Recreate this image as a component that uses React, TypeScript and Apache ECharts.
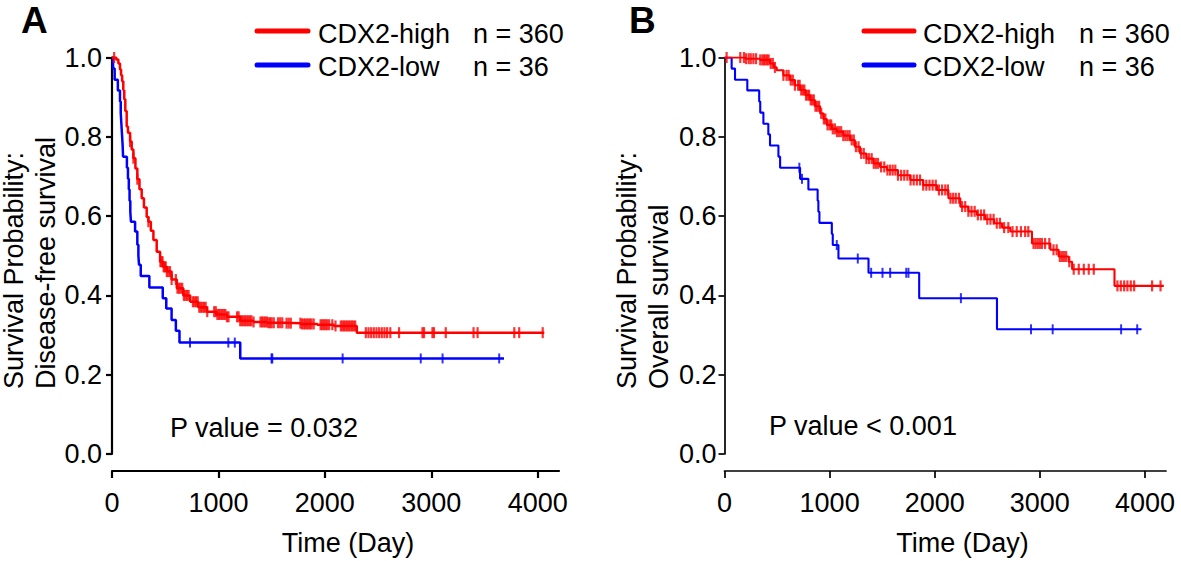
import React, { useEffect, useRef } from 'react';
import * as echarts from 'echarts';

const TICKS_X = [0, 1000, 2000, 3000, 4000];
const SERIES_NAMES = ['CDX2-high', 'CDX2-low'];
const N_LABELS = ['n = 360', 'n = 36'];
const P_TEXTS = ['P value = 0.032', 'P value < 0.001'];
const Y_TITLE_1 = 'Survival Probability:';
const Y_TITLES_2 = ['Disease-free survival', 'Overall survival'];
const X_TITLE = 'Time (Day)';
const PANELS = ['A', 'B'];

// Panel A: disease-free survival (time in days, survival probability)
const dfsHigh: [number, number][] = [
  [0, 1], [40, 0.995], [60, 0.985], [75, 0.97], [85, 0.955], [95, 0.94], [106, 0.918], [115, 0.895],
  [125, 0.865], [138, 0.826], [150, 0.81], [170, 0.788], [185, 0.768], [201, 0.746], [220, 0.72],
  [238, 0.693], [258, 0.668], [279, 0.645], [300, 0.622], [326, 0.598], [342, 0.586], [365, 0.563],
  [389, 0.54], [420, 0.51], [452, 0.485], [480, 0.472], [515, 0.46], [560, 0.44], [609, 0.418],
  [670, 0.4], [735, 0.384], [810, 0.37], [892, 0.359], [980, 0.352], [1080, 0.346], [1205, 0.336],
  [1330, 0.333], [1457, 0.331], [1620, 0.33], [1771, 0.328], [1930, 0.326], [2085, 0.323],
  [2300, 0.306], [4062, 0.306],
];
const dfsLow: [number, number][] = [
  [0, 1], [10, 0.972], [25, 0.944], [55, 0.917], [75, 0.889], [82, 0.861], [88, 0.833], [94, 0.806],
  [100, 0.778], [104, 0.75], [140, 0.722], [150, 0.694], [158, 0.667], [165, 0.639], [172, 0.611],
  [178, 0.586], [217, 0.561], [238, 0.528], [248, 0.5], [254, 0.477], [270, 0.449], [351, 0.42],
  [477, 0.393], [510, 0.367], [560, 0.338], [600, 0.311], [634, 0.281], [1205, 0.241], [3683, 0.241],
];
const dfsHighCensor = [
  20, 170, 201, 238, 342, 455, 465, 475, 485, 495, 505, 515, 530, 545, 560, 600, 615, 630, 645, 660,
  675, 690, 705, 720, 760, 775, 790, 805, 820, 835, 850, 865, 880, 895, 960, 975, 990, 1005, 1020,
  1035, 1050, 1065, 1080, 1095, 1175, 1190, 1205, 1220, 1235, 1250, 1265, 1280, 1295, 1310, 1330,
  1395, 1410, 1425, 1440, 1455, 1470, 1485, 1500, 1520, 1560, 1580, 1600, 1640, 1660, 1680, 1770,
  1785, 1800, 1815, 1830, 1845, 1860, 1875, 1895, 1960, 1975, 1990, 2005, 2020, 2040, 2070, 2100,
  2150, 2165, 2180, 2195, 2210, 2225, 2240, 2255, 2270, 2285, 2385, 2410, 2435, 2460, 2485, 2510,
  2535, 2560, 2585, 2615, 2697, 2917, 2932, 3011, 3025, 3136, 3397, 3435, 3780, 3826, 4047,
];
const dfsLowCensor = [733, 1093, 1154, 1499, 1506, 2167, 2901, 3106, 3638];

// Panel B: overall survival
const osHigh: [number, number][] = [
  [0, 1], [200, 0.997], [338, 0.994], [433, 0.985], [470, 0.975], [497, 0.968], [560, 0.955],
  [624, 0.943], [670, 0.93], [719, 0.918], [770, 0.905], [814, 0.893], [860, 0.877], [910, 0.859],
  [940, 0.845], [973, 0.83], [1020, 0.82], [1068, 0.813], [1130, 0.803], [1195, 0.792], [1240, 0.775],
  [1290, 0.758], [1350, 0.745], [1417, 0.733], [1480, 0.724], [1545, 0.716], [1650, 0.703],
  [1767, 0.691], [1890, 0.678], [2021, 0.666], [2130, 0.645], [2243, 0.624], [2320, 0.612],
  [2402, 0.603], [2480, 0.592], [2565, 0.582], [2640, 0.571], [2719, 0.561], [2925, 0.531],
  [3100, 0.515], [3179, 0.498], [3274, 0.485], [3307, 0.466], [3710, 0.424], [4179, 0.424],
];
const osLow: [number, number][] = [
  [0, 1], [68, 0.972], [100, 0.944], [217, 0.917], [330, 0.889], [340, 0.861], [370, 0.833],
  [417, 0.806], [433, 0.778], [513, 0.75], [529, 0.722], [719, 0.694], [798, 0.667], [886, 0.639],
  [893, 0.611], [903, 0.583], [1021, 0.555], [1030, 0.527], [1084, 0.493], [1370, 0.457],
  [1852, 0.393], [2592, 0.3145], [3967, 0.3145],
];
const osHighCensor = [
  20, 150, 185, 205, 230, 250, 275, 300, 340, 360, 375, 390, 405, 420, 440, 460, 480, 560, 590, 610,
  630, 650, 670, 700, 715, 730, 745, 760, 775, 790, 805, 820, 835, 850, 865, 880, 900, 920, 945, 960,
  980, 1000, 1015, 1030, 1050, 1070, 1090, 1110, 1130, 1150, 1170, 1190, 1210, 1230, 1250, 1275,
  1300, 1325, 1350, 1375, 1400, 1420, 1440, 1460, 1490, 1520, 1550, 1575, 1600, 1625, 1650, 1680,
  1710, 1740, 1770, 1800, 1830, 1860, 1890, 1920, 1950, 1980, 2010, 2040, 2070, 2100, 2125, 2150,
  2175, 2200, 2230, 2260, 2290, 2320, 2350, 2380, 2410, 2440, 2470, 2500, 2530, 2560, 2590, 2620,
  2660, 2700, 2740, 2780, 2820, 2860, 2890, 2940, 2960, 2980, 3000, 3020, 3050, 3090, 3130, 3160,
  3190, 3210, 3230, 3250, 3280, 3322, 3370, 3418, 3465, 3513, 3738, 3770, 3802, 3833, 3865, 3897,
  4068, 4148,
];
const osLowCensor = [712, 737, 1068, 1268, 1395, 1503, 1576, 1729, 1750, 2249, 2916, 3122, 3773, 3926];

const RED = '#ff0000';
const BLUE = '#0000ff';
const FONT = '"Liberation Sans", Arial, sans-serif';

function survivalAt(curve: [number, number][], t: number): number {
  let s = curve[0][1];
  for (const [ti, si] of curve) {
    if (ti <= t) s = si;
    else break;
  }
  return s;
}

function censorPoints(curve: [number, number][], times: number[]) {
  return times.map((t) => [t, survivalAt(curve, t)]);
}

type PanelCfg = {
  left: number;
  width: number;
  axisW: number;
  curveW: number;
  yLabelMargin: number;
};

const PANEL_CFG: PanelCfg[] = [
  { left: 112, width: 447, axisW: 2.2, curveW: 2.5, yLabelMargin: 10 },
  { left: 724.5, width: 441.5, axisW: 1.7, curveW: 2.1, yLabelMargin: 8 },
];
const GRID_TOP = 57.5;
const GRID_H = 396.5;
const TICK_FONT = 27;

function buildOption() {
  const grids = PANEL_CFG.map((p) => ({ left: p.left, top: GRID_TOP, width: p.width, height: GRID_H }));
  const xAxes = PANEL_CFG.map((p, i) => ({
    type: 'value',
    gridIndex: i,
    min: 0,
    max: 4200,
    position: 'bottom',
    offset: 17,
    axisLine: { show: true, onZero: false, lineStyle: { color: '#000', width: p.axisW } },
    axisTick: { show: true, length: 7, customValues: TICKS_X, lineStyle: { color: '#000', width: p.axisW } },
    axisLabel: {
      customValues: TICKS_X,
      formatter: (v: number) => String(v),
      margin: 18,
      fontSize: TICK_FONT,
      color: '#000',
      fontFamily: FONT,
    },
    splitLine: { show: false },
  }));
  const yAxes = PANEL_CFG.map((p, i) => ({
    type: 'value',
    gridIndex: i,
    min: 0,
    max: 1,
    interval: 0.2,
    axisLine: { show: true, onZero: false, lineStyle: { color: '#000', width: p.axisW } },
    axisTick: { show: true, length: 6, lineStyle: { color: '#000', width: p.axisW } },
    axisLabel: {
      formatter: (v: number) => v.toFixed(1),
      margin: p.yLabelMargin,
      fontSize: TICK_FONT,
      color: '#000',
      fontFamily: FONT,
      padding: [8, 0, 0, 0],
    },
    splitLine: { show: false },
  }));

  const curves = [
    { high: dfsHigh, low: dfsLow, highC: dfsHighCensor, lowC: dfsLowCensor },
    { high: osHigh, low: osLow, highC: osHighCensor, lowC: osLowCensor },
  ];

  const series: any[] = [];
  curves.forEach((c, i) => {
    const w = PANEL_CFG[i].curveW;
    series.push({
      type: 'line', name: SERIES_NAMES[1], xAxisIndex: i, yAxisIndex: i, data: c.low, step: 'end',
      showSymbol: false, symbol: 'none', lineStyle: { color: BLUE, width: w }, itemStyle: { color: BLUE },
      silent: true, z: 2,
    });
    series.push({
      type: 'scatter', xAxisIndex: i, yAxisIndex: i, data: censorPoints(c.low, c.lowC),
      symbol: 'rect', symbolSize: [2, 10], itemStyle: { color: BLUE }, silent: true, z: 2,
    });
    series.push({
      type: 'line', name: SERIES_NAMES[0], xAxisIndex: i, yAxisIndex: i, data: c.high, step: 'end',
      showSymbol: false, symbol: 'none', lineStyle: { color: RED, width: w }, itemStyle: { color: RED },
      silent: true, z: 3,
    });
    series.push({
      type: 'scatter', xAxisIndex: i, yAxisIndex: i, data: censorPoints(c.high, c.highC),
      symbol: 'rect', symbolSize: [2.2, 11], itemStyle: { color: RED }, silent: true, z: 3,
    });
  });

  const txt = (x: number, y: number, text: string, size: number, extra: any = {}) => ({
    type: 'text',
    x,
    y,
    silent: true,
    style: {
      text,
      fill: '#000',
      fontSize: size,
      fontFamily: FONT,
      fontWeight: extra.bold ? 'bold' : 'normal',
      textAlign: extra.align || 'left',
      align: extra.align || 'left',
      textVerticalAlign: 'middle',
      verticalAlign: 'middle',
    },
    ...(extra.rotation ? { rotation: extra.rotation } : {}),
  });
  const seg = (x1: number, x2: number, y: number, color: string) => ({
    type: 'line',
    silent: true,
    shape: { x1, y1: y, x2, y2: y },
    style: { stroke: color, lineWidth: 5, lineCap: 'round' },
  });

  const legendX = [
    { l1: 257, l2: 308, t: 318, n: 473 },
    { l1: 864, l2: 914, t: 923, n: 1079 },
  ];
  const graphics: any[] = [];
  graphics.push(txt(21, 20, PANELS[0], 37, { bold: true }));
  graphics.push(txt(629, 20, PANELS[1], 37, { bold: true }));
  PANEL_CFG.forEach((p, i) => {
    const lx = legendX[i];
    graphics.push(seg(lx.l1, lx.l2, 31, RED));
    graphics.push(seg(lx.l1, lx.l2, 65, BLUE));
    graphics.push(txt(lx.t, 34, SERIES_NAMES[0], 27));
    graphics.push(txt(lx.n, 34, N_LABELS[0], 27));
    graphics.push(txt(lx.t, 67, SERIES_NAMES[1], 27));
    graphics.push(txt(lx.n, 67, N_LABELS[1], 27));
    graphics.push(txt(p.left - 98, 389, Y_TITLE_1, 27, { rotation: Math.PI / 2 }));
    graphics.push(txt(p.left - 66, 389, Y_TITLES_2[i], 27, { rotation: Math.PI / 2 }));
    graphics.push(txt(p.left + (i === 0 ? 236 : 238), 543, X_TITLE, 27, { align: 'center' }));
    graphics.push(txt(p.left + (i === 0 ? 58 : 44.5), i === 0 ? 428 : 426, P_TEXTS[i], 27));
  });

  return {
    animation: false,
    backgroundColor: '#ffffff',
    grid: grids,
    xAxis: xAxes,
    yAxis: yAxes,
    series,
    graphic: { elements: graphics },
  };
}

export default function App() {
  const ref = useRef<HTMLDivElement>(null);
  useEffect(() => {
    if (!ref.current) return;
    const chart = echarts.init(ref.current, undefined, { renderer: 'svg' });
    chart.setOption(buildOption() as any);
    return () => chart.dispose();
  }, []);
  return (
    <div
      ref={ref}
      style={{ position: 'fixed', left: 0, top: 0, width: 1181, height: 561, background: '#fff' }}
    />
  );
}
